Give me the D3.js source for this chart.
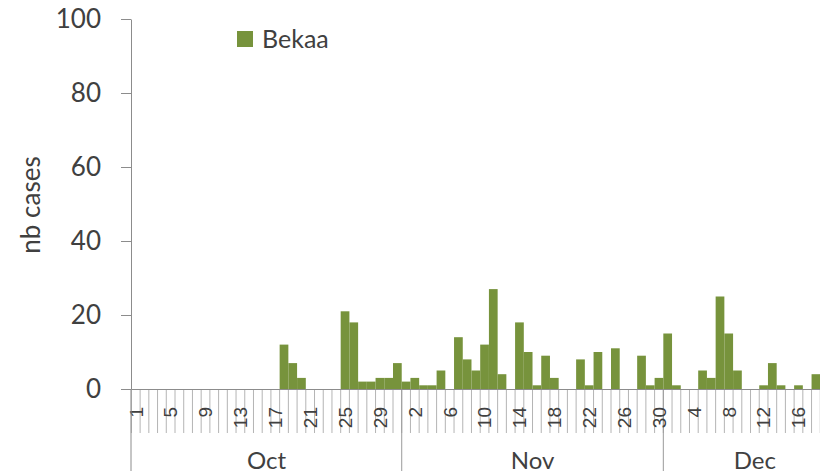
<!DOCTYPE html>
<html>
<head>
<meta charset="utf-8">
<script src="https://cdn.jsdelivr.net/npm/d3@7"></script>
<style>
	body { margin: 0; background: #fff; }
	svg { display: block; font-family: Lato, "Open Sans", sans-serif; }
</style>
</head>
<body>
<div class="chart-wrapper"></div>
<script>

const months = ["Oct", "Nov", "Dec"];

const octCases = [0,0,0,0,0,0,0,0,0,0,0,0,0,0,0,0,0,12,7,3,0,0,0,0,21,18,2,2,3,3,7];
const novCases = [2,3,1,1,5,0,14,8,5,12,27,4,0,18,10,1,9,3,0,0,8,1,10,0,11,0,0,9,1,3];
const decCases = [15,1,0,0,5,3,25,15,5,0,0,1,7,1,0,1,0,4,0,0,0];

const yTicks = [0, 20, 40, 60, 80, 100];
const seriesName = "Bekaa";
const yTitle = "nb cases";

const width = 820;
const height = 471;
const green = "#77933c";
const textColor = "#404040";

let days = [];
[octCases, novCases, decCases].forEach((vals, m) => {
	vals.forEach((v, i) => days.push({ key: months[m] + "-" + (i + 1), month: months[m], day: i + 1, value: v }));
});

let svg = d3.select(".chart-wrapper").append("svg")
	.attr("width", width)
	.attr("height", height);

let x = d3.scaleBand()
	.domain(days.map(d => d.key))
	.range([131.4, 131.4 + days.length * 8.72]);

let y = d3.scaleLinear()
	.domain([0, 100])
	.range([389, 19]);

// bars
svg.append("g").selectAll("rect")
	.data(days.filter(d => d.value > 0))
	.join("rect")
	.attr("x", d => x(d.key))
	.attr("width", x.bandwidth())
	.attr("y", d => y(d.value))
	.attr("height", d => y(0) - y(d.value))
	.attr("fill", green);

// day separators under the axis
svg.append("g").selectAll("line")
	.data(days.map(d => x(d.key)).concat([x.range()[1]]))
	.join("line")
	.attr("x1", d => d).attr("x2", d => d)
	.attr("y1", y(0)).attr("y2", 433)
	.attr("stroke", "#b4b4b4")
	.attr("stroke-width", 1);

// month separators
let monthStarts = months.map(m => days.find(d => d.month === m));
let monthEnds = months.map(m => days.filter(d => d.month === m).pop());

svg.append("g").selectAll("line")
	.data(monthStarts.slice(1))
	.join("line")
	.attr("x1", d => x(d.key)).attr("x2", d => x(d.key))
	.attr("y1", y(0)).attr("y2", height)
	.attr("stroke", "#9a9a9a")
	.attr("stroke-width", 1);

// x axis day labels, every 4th day, only those inside the picture
let labelKeys = days.filter((d, i) => i % 4 === 0)
	.map(d => d.key)
	.filter(k => x(k) + x.bandwidth() < width - 4);

let xAxis = svg.append("g")
	.attr("transform", `translate(0,${y(0)})`)
	.call(d3.axisBottom(x)
		.tickValues(labelKeys)
		.tickFormat(k => k.split("-")[1])
		.tickSize(0)
		.tickSizeOuter(0));

xAxis.select(".domain")
	.attr("stroke", "#8c8c8c");

xAxis.selectAll("text")
	.attr("transform", "rotate(-90)")
	.attr("x", -18)
	.attr("y", 0)
	.attr("dy", "0.36em")
	.style("text-anchor", "end")
	.style("font-size", "19px")
	.attr("fill", textColor);

// month labels
svg.append("g").selectAll("text")
	.data(months)
	.join("text")
	.attr("x", (m, i) => (x(monthStarts[i].key) + x(monthEnds[i].key) + x.bandwidth()) / 2)
	.attr("y", 469)
	.attr("text-anchor", "middle")
	.attr("fill", textColor)
	.style("font-size", "24px")
	.text(m => m);

// y axis
let yAxis = svg.append("g")
	.attr("transform", "translate(131,0)")
	.call(d3.axisLeft(y)
		.tickValues(yTicks)
		.tickSize(10)
		.tickSizeOuter(0)
		.tickPadding(20));

yAxis.selectAll("line, .domain").attr("stroke", "#8c8c8c");
yAxis.selectAll("text")
	.attr("fill", textColor)
	.style("font-size", "26px")
	.style("font-family", "Lato, sans-serif");

svg.append("line")
	.attr("x1", 131).attr("x2", 131)
	.attr("y1", y(0)).attr("y2", height)
	.attr("stroke", "#8c8c8c");

// y title
svg.append("text")
	.attr("transform", "translate(40,205) rotate(-90)")
	.attr("text-anchor", "middle")
	.attr("fill", textColor)
	.style("font-size", "26px")
	.text(yTitle);

// legend
let legend = svg.append("g").attr("transform", "translate(237,31)");

legend.append("rect")
	.attr("width", 16)
	.attr("height", 16)
	.attr("fill", green);

legend.append("text")
	.attr("x", 25)
	.attr("y", 17)
	.attr("fill", textColor)
	.style("font-size", "25px")
	.text(seriesName);

</script>
</body>
</html>
